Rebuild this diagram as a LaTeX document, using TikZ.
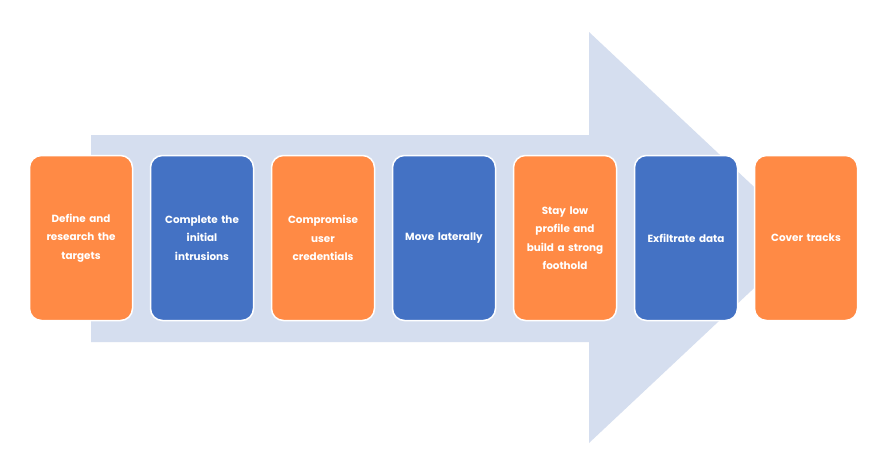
\documentclass[tikz,border=0pt]{standalone}
\usepackage{fontspec}
\setmainfont{Poppins}
\definecolor{arrowbg}{HTML}{D5DEEF}
\definecolor{orangebox}{HTML}{FF8A45}
\definecolor{bluebox}{HTML}{4472C4}
\begin{document}
\begin{tikzpicture}[x=1pt,y=-1pt,
  stage/.style={draw=white, line width=1.5pt, rounded corners=12pt,
    minimum width=103pt, minimum height=165pt, text width=96pt, align=center,
    text=white, font=\fontsize{10.4}{18.5}\selectfont\bfseries, inner sep=0pt},
  orangestage/.style={stage, fill=orangebox},
  bluestage/.style={stage, fill=bluebox}]
\useasboundingbox (0,0) rectangle (871,459);
\fill[white] (0,0) rectangle (871,459);
\fill[arrowbg] (91,135) -- (589,135) -- (589,32) -- (808,237.5) -- (589,443) -- (589,342) -- (91,342) -- cycle;
\node[orangestage] (s1) at (81,238) {Define and\\research the\\targets};
\node[bluestage] (s2) at (202,238) {Complete the\\initial\\intrusions};
\node[orangestage] (s3) at (323,238) {Compromise\\user\\credentials};
\node[bluestage] (s4) at (444,238) {Move laterally};
\node[orangestage] (s5) at (565,238) {Stay low\\profile and\\build a strong\\foothold};
\node[bluestage] (s6) at (686,238) {Exfiltrate data};
\node[orangestage] (s7) at (806,238) {Cover tracks};
\end{tikzpicture}
\end{document}
